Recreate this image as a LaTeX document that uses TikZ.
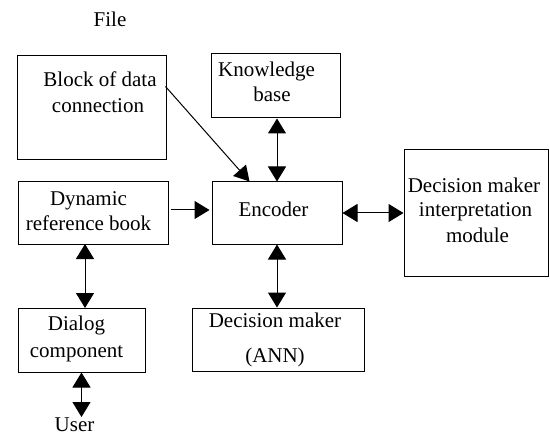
\documentclass[tikz,border=0pt]{standalone}
\usepackage{fontspec}
\setmainfont{Liberation Serif}
\usetikzlibrary{arrows.meta,calc}
\tikzset{
  box/.style={draw=black, line width=1pt, inner sep=0pt},
  lbl/.style={inner sep=0pt, anchor=base, font=\fontsize{21}{25}\selectfont},
  arr/.style={line width=1pt, -{Triangle[length=15pt,width=18pt]}},
  darr/.style={line width=1pt, {Triangle[length=15pt,width=18pt]}-{Triangle[length=15pt,width=18pt]}}
}
\begin{document}
\begin{tikzpicture}[x=1pt,y=-1pt]
\useasboundingbox (0,0) rectangle (550,436);
% boxes
\node[box, minimum width=149pt, minimum height=104pt] (blk) at (91.5,108) {};
\node[box, minimum width=129pt, minimum height=64pt] (kb) at (275.5,86) {};
\node[box, minimum width=150pt, minimum height=62pt] (dyn) at (93,213) {};
\node[box, minimum width=130pt, minimum height=62pt] (enc) at (277,213) {};
\node[box, minimum width=144pt, minimum height=126pt] (dmi) at (476,213) {};
\node[box, minimum width=127pt, minimum height=64pt] (dlg) at (81.5,340) {};
\node[box, minimum width=172pt, minimum height=63pt] (ann) at (278,339.5) {};
% texts
\node[lbl] (tfile) at (110,27) {File};
\node[lbl] (tblk1) at (100,87) {Block of data};
\node[lbl] (tblk2) at (98,113) {connection};
\node[lbl] (tkb1) at (266.5,77) {Knowledge};
\node[lbl] (tkb2) at (272,102) {base};
\node[lbl] (tdyn1) at (88.5,205) {Dynamic};
\node[lbl] (tdyn2) at (88.5,230) {reference book};
\node[lbl] (tenc) at (273.5,217) {Encoder};
\node[lbl] (tdmi1) at (474,193) {Decision maker};
\node[lbl] (tdmi2) at (475.5,217) {interpretation};
\node[lbl] (tdmi3) at (477.5,242) {module};
\node[lbl] (tdlg1) at (76.5,330) {Dialog};
\node[lbl] (tdlg2) at (76.5,357) {component};
\node[lbl] (tann1) at (275,327) {Decision maker};
\node[lbl] (tann2) at (275,362) {(ANN)};
\node[lbl] (user) at (74.5,431) {User};
\coordinate (userTop) at (81.5,417);
\coordinate (dynS) at (85,244);
\coordinate (dlgN) at (85,308);
% connectors
\draw[line width=1pt, -{Triangle[length=15pt,width=17pt]}] ($(blk.north east)+(-1,31)$) -- ($(enc.north west)+(38,0)$);
\draw[darr] (enc.north) -- (enc.north |- kb.south);
\draw[arr] ($(dyn.east)+(2,-3)$) -- ($(enc.west)+(-2,-3)$);
\draw[darr] (enc.east) -- (dmi.west);
\draw[darr] (dynS) -- (dlgN);
\draw[darr] (enc.south) -- (enc.south |- ann.north);
\draw[darr] (dlg.south) -- (userTop);
\end{tikzpicture}
\end{document}
